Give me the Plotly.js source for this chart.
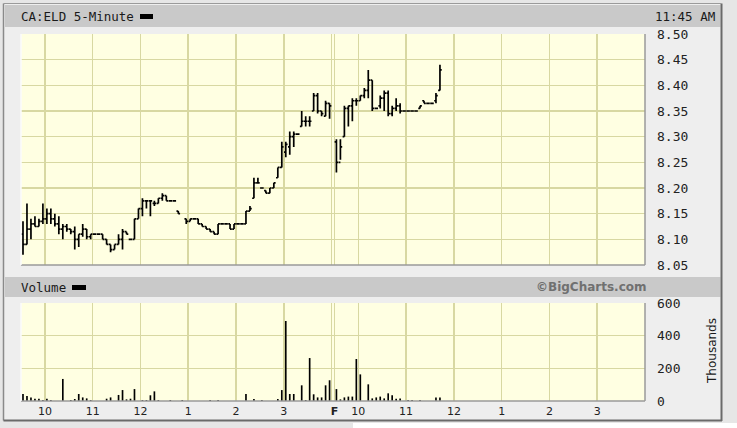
<!DOCTYPE html>
<html><head><meta charset="utf-8">
<script src="https://cdn.plot.ly/plotly-3.0.1.min.js"></script>
<style>html,body{margin:0;padding:0;background:#e6e6e6;}#c{width:737px;height:428px;}</style>
</head><body><div id="c"></div>
<script>
// ---- data: 5-minute bars, day 1 (Thursday, 78 bars) and day 2 (Friday, to 11:45) ----
const day1Open  = [8.11,8.09,8.12,8.13,8.125,8.135,8.14,8.15,8.14,8.13,8.12,8.125,8.12,8.115,8.10,8.11,8.12,8.105,8.11,8.11,8.11,8.10,8.09,8.08,8.09,8.10,8.115,8.10,8.10,8.14,8.16,8.175,8.175,8.17,8.17,8.18,8.185,8.175,8.175,8.155,null,8.14,8.135,8.14,8.14,8.13,8.125,8.12,8.115,8.11,8.13,8.13,8.13,8.12,8.13,8.13,8.13,8.155,8.18,8.21,8.20,8.195,8.19,8.20,8.22,8.24,8.27,8.28,8.30,8.305,8.32,8.33,8.33,8.35,8.38,8.35,8.34,8.365];
const day1High  = [8.135,8.17,8.14,8.145,8.14,8.17,8.16,8.16,8.15,8.145,8.13,8.13,8.12,8.125,8.11,8.13,8.12,8.11,8.11,8.11,8.11,8.10,8.09,8.09,8.11,8.12,8.115,8.10,8.14,8.16,8.18,8.175,8.175,8.175,8.18,8.19,8.185,8.175,8.175,8.155,null,8.14,8.14,8.14,8.14,8.13,8.125,8.12,8.115,8.13,8.13,8.13,8.13,8.13,8.13,8.13,8.155,8.165,8.22,8.22,8.20,8.195,8.20,8.21,8.24,8.29,8.29,8.31,8.31,8.305,8.35,8.34,8.34,8.385,8.385,8.35,8.37,8.365];
const day1Low   = [8.07,8.09,8.10,8.125,8.125,8.13,8.13,8.13,8.125,8.11,8.10,8.115,8.11,8.08,8.085,8.105,8.10,8.10,8.11,8.11,8.10,8.09,8.075,8.08,8.09,8.08,8.11,8.10,8.10,8.14,8.145,8.16,8.145,8.165,8.17,8.175,8.175,8.175,8.175,8.15,null,8.13,8.135,8.14,8.13,8.125,8.12,8.115,8.11,8.11,8.13,8.13,8.12,8.12,8.13,8.13,8.13,8.155,8.18,8.21,8.20,8.19,8.19,8.20,8.22,8.24,8.26,8.265,8.28,8.305,8.32,8.32,8.32,8.35,8.345,8.34,8.34,8.335];
const day1Close = [8.09,8.12,8.13,8.125,8.135,8.14,8.15,8.14,8.13,8.12,8.125,8.12,8.115,8.10,8.11,8.12,8.105,8.11,8.11,8.11,8.10,8.09,8.08,8.09,8.10,8.115,8.11,8.10,8.14,8.16,8.175,8.175,8.175,8.17,8.18,8.185,8.175,8.175,8.175,8.15,null,8.135,8.14,8.14,8.13,8.125,8.12,8.115,8.11,8.13,8.13,8.13,8.12,8.13,8.13,8.13,8.155,8.16,8.21,8.21,8.20,8.19,8.20,8.21,8.24,8.28,8.285,8.30,8.305,8.305,8.33,8.33,8.33,8.38,8.35,8.345,8.365,8.36];
const day1Volume = [43,30,22,14,14,6,14,6,0,0,135,0,6,12,43,22,16,6,0,0,0,14,22,0,37,67,10,14,73,0,6,6,35,59,6,0,0,6,0,0,6,0,0,0,0,0,0,6,0,6,0,0,0,0,0,0,43,0,12,0,6,0,0,0,12,67,490,43,43,0,96,6,263,41,22,22,96,127];

const day2Open  = [8.29,8.25,8.30,8.355,8.36,8.37,8.37,8.38,8.39,8.41,8.355,8.36,8.375,8.385,8.345,8.355,8.36,8.35,8.35,8.35,8.35,8.355,8.37,8.365,8.365,8.37,8.39];
const day2High  = [8.295,8.295,8.36,8.36,8.375,8.375,8.38,8.395,8.43,8.41,8.355,8.38,8.39,8.39,8.36,8.375,8.365,8.35,8.35,8.35,8.35,8.36,8.37,8.365,8.365,8.385,8.44];
const day2Low   = [8.23,8.255,8.30,8.32,8.33,8.36,8.37,8.375,8.375,8.35,8.355,8.355,8.35,8.34,8.34,8.35,8.345,8.35,8.35,8.35,8.35,8.355,8.365,8.365,8.365,8.365,8.39];
const day2Close = [8.25,8.28,8.355,8.36,8.37,8.37,8.38,8.39,8.41,8.355,8.355,8.375,8.385,8.345,8.355,8.36,8.35,8.35,8.35,8.35,8.35,8.36,8.365,8.365,8.365,8.38,8.43];
const day2Volume = [73,10,22,27,27,257,163,0,102,16,22,27,16,47,35,14,16,0,6,6,0,6,0,0,0,22,22];

const hourLabels = ['10','11','12','1','2','3','','<b>F</b>','10','11','12','1','2','3'];
const header = 'CA:ELD 5-Minute';
const stamp = '11:45 AM';

// ---- build time positions (hours since open, two sessions side by side) ----
const SESSION = 6.5, DAY2 = 6.56, BAR = 1/12;
function times(n, off){ const t=[]; for(let i=0;i<n;i++) t.push(off+(i+0.5)*BAR); return t; }
const t1 = times(day1Open.length, 0), t2 = times(day2Open.length, DAY2);
const T = t1.concat(t2);
const O = day1Open.concat(day2Open), H = day1High.concat(day2High), L = day1Low.concat(day2Low), C = day1Close.concat(day2Close);
const V = day1Volume.concat(day2Volume);
const keep = O.map((v,i)=>v!==null);
const f = a => a.filter((v,i)=>keep[i]);

const tickv = [];
for(let h=0.5; h<SESSION; h+=1) tickv.push(h);
tickv.push(SESSION);
tickv.push(DAY2);
for(let h=DAY2+0.5; h<DAY2+SESSION; h+=1) tickv.push(h);

const W=737, Hh=428;
const px = x => x/W, py = y => 1 - y/Hh;

const grid = '#d8d8a2';
const axX = {range:[0, DAY2+SESSION], tickvals:tickv, ticktext:hourLabels, showgrid:true, gridcolor:grid, gridwidth:1.5,
  zeroline:false, showline:false, ticks:'', fixedrange:true, rangeslider:{visible:false},
  domain:[px(21), px(645)], tickfont:{family:'DejaVu Sans', size:11, color:'#222'}};

const traces = [
  {type:'ohlc', x:f(T), open:f(O), high:f(H), low:f(L), close:f(C), xaxis:'x', yaxis:'y',
   increasing:{line:{color:'#000', width:1.7}}, decreasing:{line:{color:'#000', width:1.7}},
   tickwidth:0.45, hoverinfo:'skip', showlegend:false},
  {type:'bar', x:T, y:V, xaxis:'x2', yaxis:'y2', width:0.035, marker:{color:'#000', line:{width:0}},
   hoverinfo:'skip', showlegend:false}
];

const P = 'paper';
const shapes = [
  // outer light frame strips (outside the panel)
  {type:'rect', xref:P, yref:P, x0:0, x1:1, y0:py(3.5), y1:1, fillcolor:'#e6e6e6', line:{width:0}, layer:'below'},
  {type:'rect', xref:P, yref:P, x0:px(721.5), x1:1, y0:0, y1:1, fillcolor:'#e6e6e6', line:{width:0}, layer:'below'},
  {type:'rect', xref:P, yref:P, x0:0, x1:px(3.5), y0:0, y1:1, fillcolor:'#e6e6e6', line:{width:0}, layer:'below'},
  {type:'rect', xref:P, yref:P, x0:0, x1:1, y0:0, y1:py(420.5), fillcolor:'#e6e6e6', line:{width:0}, layer:'below'},
  {type:'rect', xref:P, yref:P, x0:px(353), x1:1, y0:0, y1:py(423), fillcolor:'#ffffff', line:{width:0}, layer:'below'},
  // panel border lines
  {type:'line', xref:P, yref:P, x0:px(3.5), x1:px(3.5), y0:py(420.5), y1:py(3.5), line:{color:'#8a8a8a', width:1.5}},
  {type:'line', xref:P, yref:P, x0:px(721.5), x1:px(721.5), y0:py(421), y1:py(3.5), line:{color:'#6a6a6a', width:2}},
  {type:'line', xref:P, yref:P, x0:px(3.5), x1:px(722), y0:py(420.5), y1:py(420.5), line:{color:'#6a6a6a', width:2}},
  {type:'line', xref:P, yref:P, x0:px(3.5), x1:px(721.5), y0:py(3.5), y1:py(3.5), line:{color:'#9a9a9a', width:1}},
  // header bars
  {type:'rect', xref:P, yref:P, x0:px(5), x1:px(720.5), y0:py(27), y1:py(5), fillcolor:'#c9c9c9', line:{width:0}, layer:'below'},
  {type:'rect', xref:P, yref:P, x0:px(5), x1:px(720.5), y0:py(297), y1:py(277), fillcolor:'#c9c9c9', line:{width:0}, layer:'below'},
  // legend swatches
  {type:'rect', xref:P, yref:P, x0:px(140), x1:px(153), y0:py(19), y1:py(14), fillcolor:'#000', line:{width:0}},
  {type:'rect', xref:P, yref:P, x0:px(72), x1:px(86), y0:py(290), y1:py(285), fillcolor:'#000', line:{width:0}},
  // plot frames (inset look)
  {type:'line', xref:'x domain', yref:'y domain', x0:1, x1:1, y0:0, y1:1, line:{color:'#9a9a9a', width:1.5}},
  {type:'line', xref:'x domain', yref:'y domain', x0:0, x1:1, y0:0, y1:0, line:{color:'#9a9a9a', width:1.5}},
  {type:'line', xref:'x domain', yref:'y domain', x0:0, x1:0, y0:0, y1:1, line:{color:'#fbfbfb', width:1.5}},
  {type:'line', xref:'x2 domain', yref:'y2 domain', x0:1, x1:1, y0:0, y1:1, line:{color:'#9a9a9a', width:1.5}},
  {type:'line', xref:'x2 domain', yref:'y2 domain', x0:0, x1:1, y0:0, y1:0, line:{color:'#9a9a9a', width:1.5}},
  {type:'line', xref:'x2 domain', yref:'y2 domain', x0:0, x1:0, y0:0, y1:1, line:{color:'#fbfbfb', width:1.5}}
];

const mono = 'DejaVu Sans Mono';
const annotations = [
  {text:header, xref:P, yref:P, x:px(19), y:py(16), xanchor:'left', yanchor:'middle', showarrow:false, font:{family:mono, size:12.5, color:'#1a1a1a'}},
  {text:stamp, xref:P, yref:P, x:px(717), y:py(16), xanchor:'right', yanchor:'middle', showarrow:false, font:{family:mono, size:12.5, color:'#1a1a1a'}},
  {text:'Volume', xref:P, yref:P, x:px(19), y:py(287), xanchor:'left', yanchor:'middle', showarrow:false, font:{family:mono, size:12.5, color:'#1a1a1a'}},
  {text:'<b>©BigCharts.com</b>', xref:P, yref:P, x:px(649), y:py(287), xanchor:'right', yanchor:'middle', showarrow:false, font:{family:'DejaVu Sans', size:12, color:'#707070'}},
  {text:'Thousands', xref:P, yref:P, x:px(712), y:py(351), xanchor:'center', yanchor:'middle', textangle:-90, showarrow:false, font:{family:'DejaVu Sans', size:12, color:'#1a1a1a'}}
];

const layout = {
  width:W, height:Hh, margin:{l:0,r:0,t:0,b:0}, paper_bgcolor:'#eeeeee', plot_bgcolor:'#ffffe2',
  showlegend:false, dragmode:false,
  xaxis: Object.assign({}, axX, {anchor:'y', showticklabels:false}),
  xaxis2: Object.assign({}, axX, {anchor:'y2', showticklabels:true, ticklabelstandoff:2}),
  yaxis: {domain:[py(265), py(34)], range:[8.05, 8.50], dtick:0.05, tickformat:'.2f', side:'right', anchor:'x',
    showgrid:true, gridcolor:grid, gridwidth:1.5, zeroline:false, ticks:'', ticklabelstandoff:11, fixedrange:true,
    tickfont:{family:mono, size:13, color:'#222'}},
  yaxis2: {domain:[py(401), py(303)], range:[0, 600], dtick:200, side:'right', anchor:'x2',
    showgrid:true, gridcolor:grid, gridwidth:1.5, zeroline:false, ticks:'', ticklabelstandoff:11, fixedrange:true,
    tickfont:{family:mono, size:13, color:'#222'}},
  shapes:shapes, annotations:annotations
};

Plotly.newPlot('c', traces, layout, {staticPlot:true, displayModeBar:false});
</script></body></html>
